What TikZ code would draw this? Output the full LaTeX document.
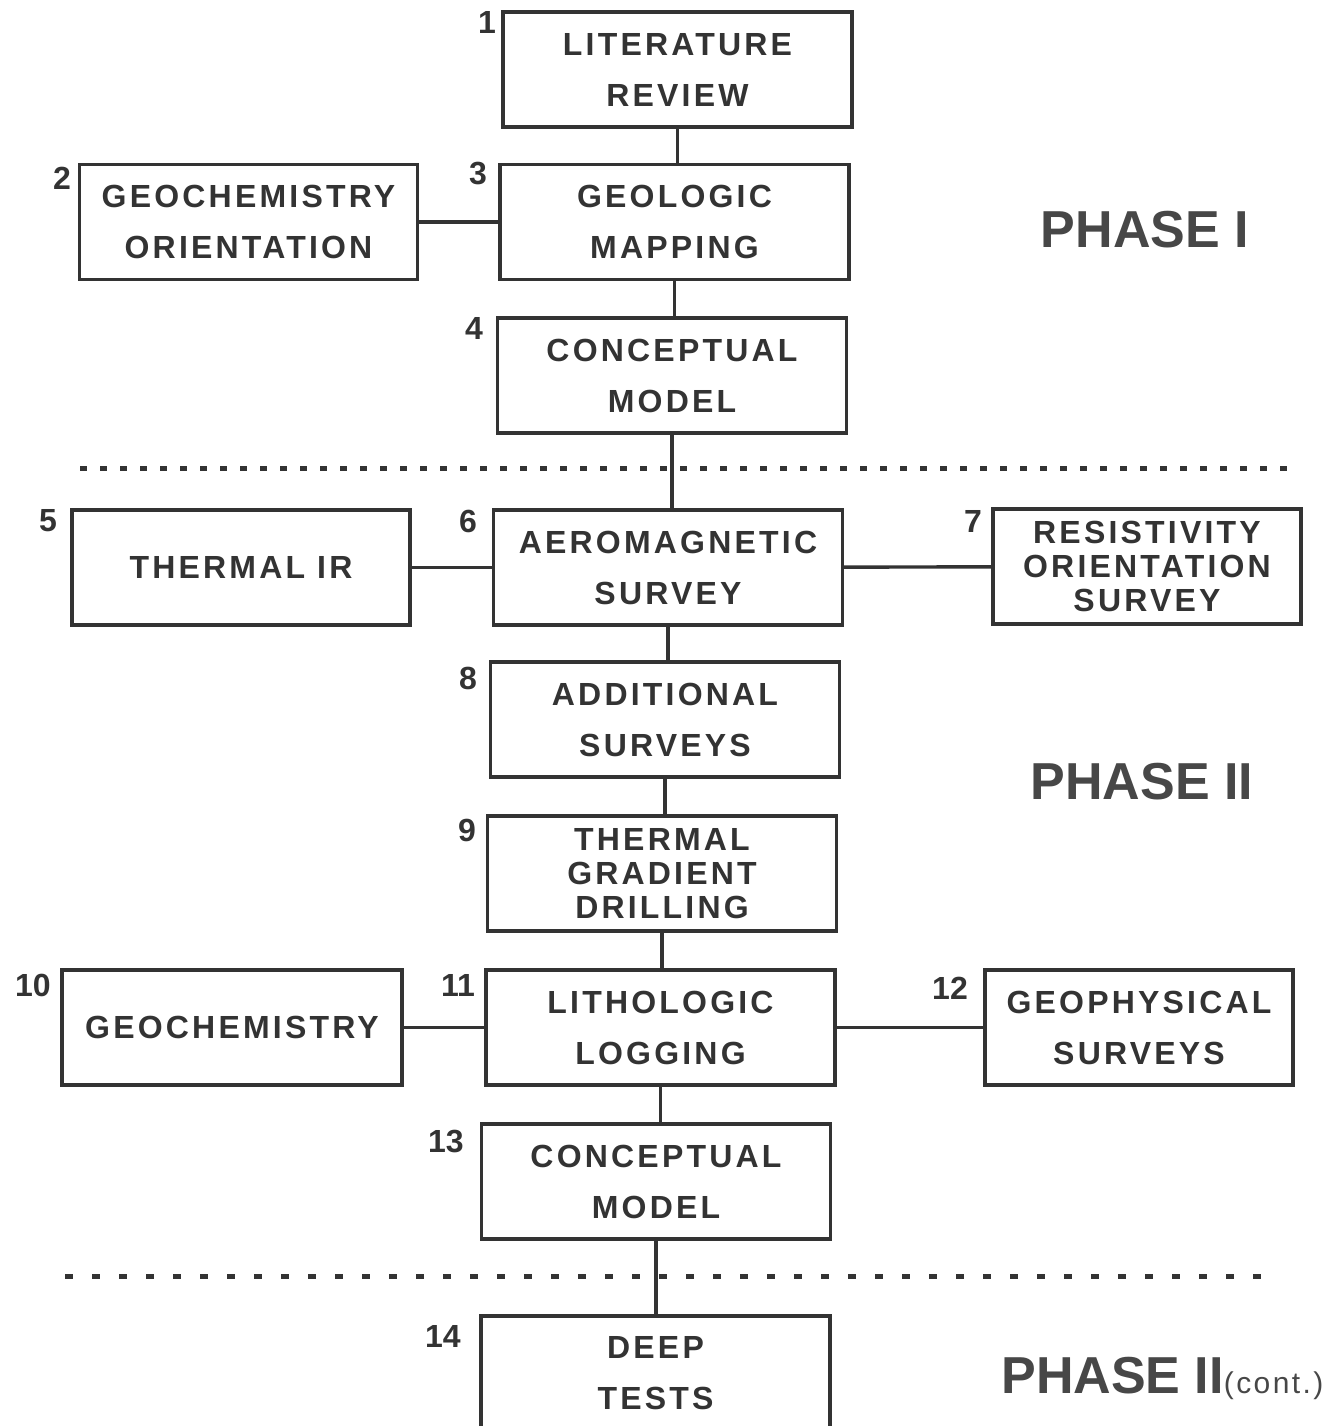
\documentclass[tikz,border=0pt]{standalone}
\usepackage{fontspec}
\setmainfont{Liberation Sans}
\newfontfamily\spacedfamily{Liberation Sans}[LetterSpace=10]
\newfontfamily\contfamily{Liberation Sans}[LetterSpace=8]
\usetikzlibrary{positioning}
\newcommand\stagefont{\spacedfamily\bfseries\fontsize{16}{25.5}\selectfont}
\newcommand\packedfont{\spacedfamily\bfseries\fontsize{16}{17}\selectfont}
\definecolor{ink}{HTML}{333333}
\tikzset{
  stage/.style={draw=ink, line width=1.7pt, minimum width=174.5pt, minimum height=57.5pt,
    inner sep=0pt, align=center, text=ink, font=\stagefont},
  side/.style={stage, minimum width=169pt},
  narrow/.style={stage, minimum width=154pt},
  packed/.style={font=\packedfont},
  stepno/.style={text=ink, font=\bfseries\fontsize{16}{16}\selectfont, inner sep=0pt},
  phase/.style={text=ink!90, font=\bfseries\fontsize{26}{26}\selectfont, inner sep=0pt},
  link/.style={draw=ink, line width=1.7pt},
  cut/.style={draw=ink, line width=2.5pt}
}
\begin{document}
\begin{tikzpicture}[x=0.5pt,y=-0.5pt]
  \useasboundingbox (0,0) rectangle (1333,1426);
  \clip (0,0) rectangle (1333,1426);
  % phase one
  \node [stage] (lit) at (677.5,69.5) {LITERATURE\\REVIEW};
  \node [side] (geochem) at (248.5,222) {GEOCHEMISTRY\\ORIENTATION};
  \node [stage] (geomap) at (674.5,222) {GEOLOGIC\\MAPPING};
  \node [stage] (concept) at (672,375.5) {CONCEPTUAL\\MODEL};
  % phase two
  \node [side] (thermir) at (241,567.5) {THERMAL IR};
  \node [stage] (aeromag) at (668,567.5) {AEROMAGNETIC\\SURVEY};
  \node [narrow,packed] (resist) at (1147,566.5) {RESISTIVITY\\ORIENTATION\\SURVEY};
  \node [stage] (addsurv) at (665,719.5) {ADDITIONAL\\SURVEYS};
  \node [stage,packed] (tgrad) at (662,873.5) {THERMAL\\GRADIENT\\DRILLING};
  \node [side,minimum width=170pt] (geochemb) at (232,1027.5) {GEOCHEMISTRY};
  \node [stage] (litho) at (660.5,1027.5) {LITHOLOGIC\\LOGGING};
  \node [narrow] (geophys) at (1139,1027.5) {GEOPHYSICAL\\SURVEYS};
  \node [stage] (concepttwo) at (656,1181.5) {CONCEPTUAL\\MODEL};
  \node [stage] (deep) at (655.5,1373.5) {DEEP\\TESTS};
  % step numbers
  \node [stepno] (n1) at (487,22) {1};
  \node [stepno] (n2) at (62,178) {2};
  \node [stepno] (n3) at (478,173) {3};
  \node [stepno] (n4) at (474,328) {4};
  \node [stepno] (n5) at (48,521) {5};
  \node [stepno] (n6) at (468,521) {6};
  \node [stepno] (n7) at (973,521) {7};
  \node [stepno] (n8) at (468,678) {8};
  \node [stepno] (n9) at (467,830) {9};
  \node [stepno] (n10) at (33,985) {10};
  \node [stepno] (n11) at (458,985) {11};
  \node [stepno] (n12) at (950,988) {12};
  \node [stepno] (n13) at (446,1141) {13};
  \node [stepno] (n14) at (443,1336) {14};
  % phase labels
  \node [phase] (ph1) at (1145,230) {PHASE I};
  \node [phase] (ph2) at (1142,782) {PHASE II};
  \node [phase,anchor=base west] (ph3) at (1001,1393) {PHASE II\textmd{\contfamily\fontsize{15}{15}\selectfont(cont.)}};
  % phase cuts
  \coordinate (cutAw) at (80,468);
  \coordinate (cutAe) at (1300,468);
  \coordinate (cutBw) at (65,1276);
  \coordinate (cutBe) at (1275,1276);
  \draw [cut, dash pattern=on 3.5pt off 6.5pt] (cutAw) -- (cutAe);
  \draw [cut, dash pattern=on 4pt off 9.5pt] (cutBw) -- (cutBe);
  % links
  \foreach \a/\b in {lit/geomap, geomap/concept, concept/aeromag, aeromag/addsurv,
      addsurv/tgrad, tgrad/litho, litho/concepttwo, concepttwo/deep}
    \draw [link] (\a.south) -- (\a.south |- \b.north);
  \draw [link] (geochem) -- (geomap);
  \draw [link] (thermir) -- (aeromag);
  \draw [link] (aeromag) -- (resist);
  \draw [link] (geochemb) -- (litho);
  \draw [link] (litho) -- (geophys);
\end{tikzpicture}
\end{document}
